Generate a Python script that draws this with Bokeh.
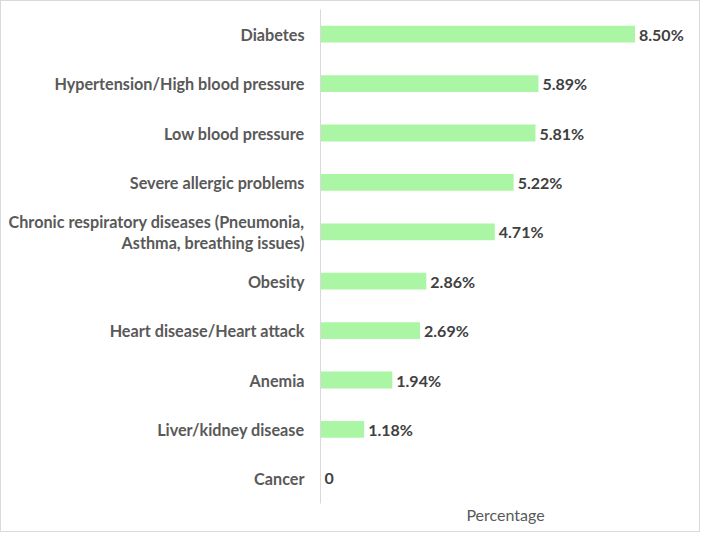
from bokeh.plotting import figure
from bokeh.models import ColumnDataSource, FactorRange, Range1d, FixedTicker
from bokeh.core.properties import value
from bokeh.embed import file_html
from bokeh.resources import INLINE

categories = [
    "Diabetes",
    "Hypertension/High blood pressure",
    "Low blood pressure",
    "Severe allergic problems",
    "Chronic respiratory diseases (Pneumonia,\nAsthma, breathing issues)",
    "Obesity",
    "Heart disease/Heart attack",
    "Anemia",
    "Liver/kidney disease",
    "Cancer",
]
percentages = [8.50, 5.89, 5.81, 5.22, 4.71, 2.86, 2.69, 1.94, 1.18, 0]
value_labels = ["8.50%", "5.89%", "5.81%", "5.22%", "4.71%", "2.86%", "2.69%", "1.94%", "1.18%", "0"]
x_axis_title = "Percentage"

FONT = "Lato"

source = ColumnDataSource(dict(cat=categories, val=percentages, lab=value_labels))

factors = list(reversed(categories))
p = figure(
    width=700, height=532,
    y_range=FactorRange(*factors, range_padding=0),
    x_range=Range1d(0, 10),
    output_backend="svg", toolbar_location=None,
    min_border_left=319, min_border_right=11, min_border_top=8, min_border_bottom=30,
)
p.styles = {"border": "1px solid #d9d9d9"}
p.y_range.factor_padding = 0

p.hbar(y="cat", right="val", left=0, height=0.34, source=source,
       fill_color="#abf6a4", line_color=None)
p.text(x="val", y="cat", text="lab", source=source, x_offset=4,
       text_baseline="middle", text_align="left",
       text_font=value(FONT), text_font_style="bold", text_font_size="16px",
       text_color="#404040")

p.xgrid.visible = False
p.ygrid.visible = False
p.outline_line_color = None

ya = p.yaxis[0]
ya.axis_line_color = "#d9d9d9"
ya.axis_line_width = 1
ya.major_tick_line_color = None
ya.minor_tick_line_color = None
ya.major_tick_out = 0
ya.major_tick_in = 0
ya.major_label_standoff = 16
ya.major_label_text_font = FONT
ya.major_label_text_font_style = "bold"
ya.major_label_text_font_size = "16.2px"
ya.major_label_text_color = "#595959"
ya.major_label_text_line_height = 1.1

xa = p.xaxis[0]
xa.ticker = FixedTicker(ticks=[])
xa.axis_line_color = None
xa.major_tick_line_color = None
xa.minor_tick_line_color = None
xa.major_tick_out = 0
xa.major_tick_in = 0
xa.major_label_standoff = 0
xa.axis_label = x_axis_title
xa.axis_label_standoff = 1
xa.axis_label_text_font = FONT
xa.axis_label_text_font_style = "normal"
xa.axis_label_text_font_size = "16px"
xa.axis_label_text_color = "#595959"

open("out.html", "w").write(file_html(p, INLINE))
